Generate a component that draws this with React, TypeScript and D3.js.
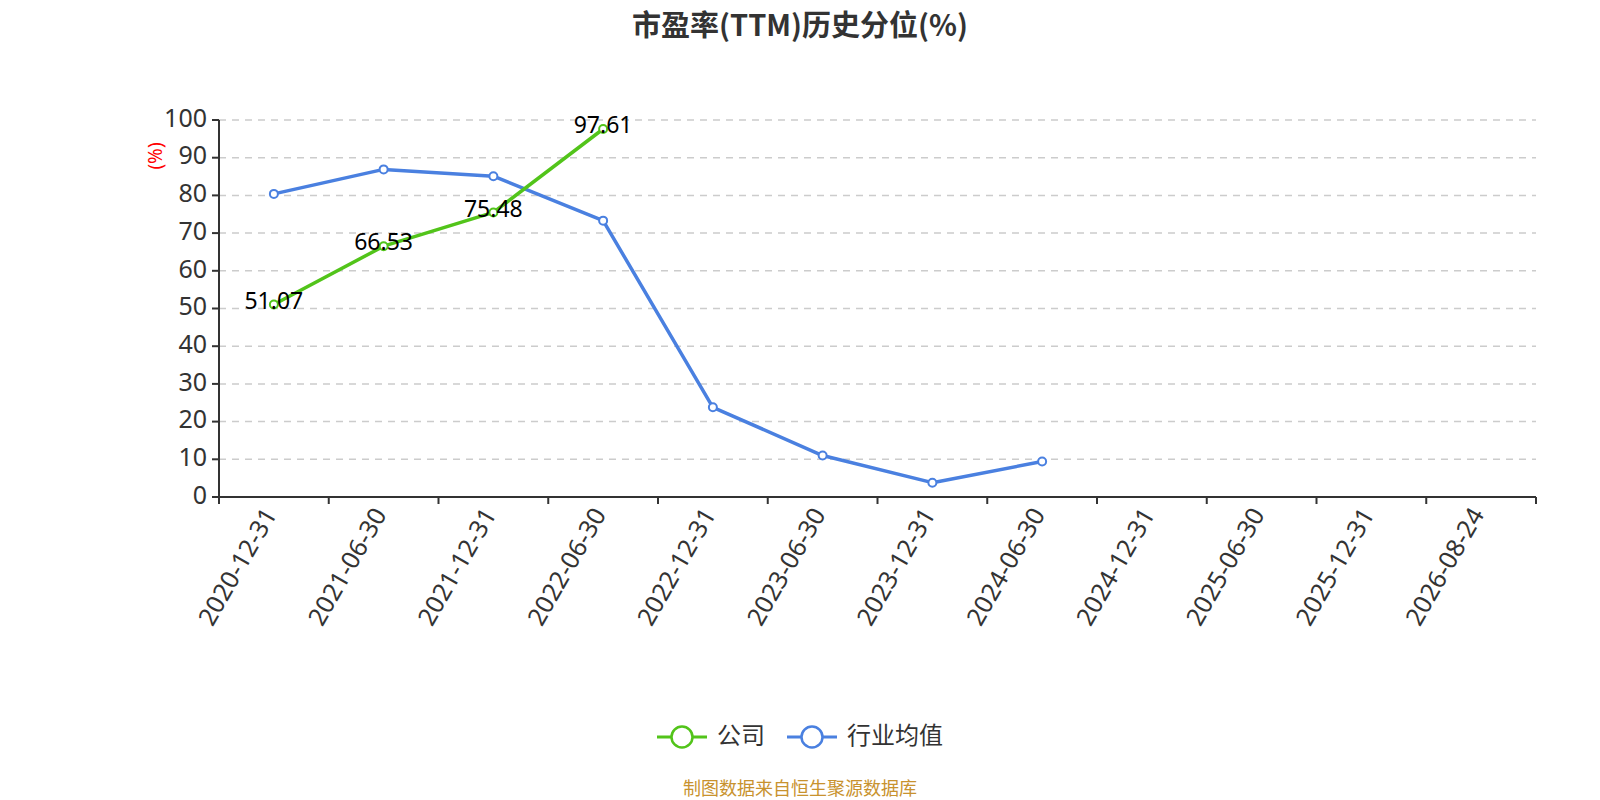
import React from "react";
import * as d3 from "d3";

const categories = [
  "2020-12-31",
  "2021-06-30",
  "2021-12-31",
  "2022-06-30",
  "2022-12-31",
  "2023-06-30",
  "2023-12-31",
  "2024-06-30",
  "2024-12-31",
  "2025-06-30",
  "2025-12-31",
  "2026-08-24",
];

// 公司
const companyValues = [51.07, 66.53, 75.48, 97.61];
// 行业均值
const industryValues = [80.4, 86.9, 85.1, 73.3, 23.8, 11.0, 3.8, 9.4];

const yTicks = [0, 10, 20, 30, 40, 50, 60, 70, 80, 90, 100];

const W = 1600;
const H = 800;
const margin = { top: 120, right: 64, bottom: 303, left: 219 };
const font = '"Noto Sans", "Noto Sans CJK SC", sans-serif';
const cjkFont = '"Noto Sans CJK SC", "Noto Sans", sans-serif';

const GREEN = "#52c41a";
const BLUE = "#4a80e0";

export default function App() {
  const x = d3
    .scaleBand()
    .domain(categories)
    .range([margin.left, W - margin.right])
    .paddingInner(0)
    .paddingOuter(0);
  const y = d3
    .scaleLinear()
    .domain([0, 100])
    .range([H - margin.bottom, margin.top]);

  const cx = (i: number) => (x(categories[i]) as number) + x.bandwidth() / 2;
  const line = d3
    .line<number>()
    .x((_, i) => cx(i))
    .y((d) => y(d));

  const tickXs = [...categories.map((c) => x(c) as number), W - margin.right];
  const baseY = y(0);

  const series = [
    { name: "行业均值", color: BLUE, values: industryValues, labels: false },
    { name: "公司", color: GREEN, values: companyValues, labels: true },
  ];

  const legend = [
    { name: "公司", color: GREEN, textW: 48 },
    { name: "行业均值", color: BLUE, textW: 96 },
  ];
  const legendGap = 22;
  const iconW = 50;
  const textGap = 10;
  const legendTotal =
    legend.reduce((a, l) => a + iconW + textGap + l.textW, 0) + legendGap * (legend.length - 1);
  let lx = W / 2 - legendTotal / 2;

  return (
    <div style={{ position: "fixed", left: 0, top: 0 }}>
      <svg width={W} height={H} style={{ display: "block", background: "#fff" }} fontFamily={font}>
        <text
          x={W / 2}
          y={36}
          textAnchor="middle"
          fontSize={29}
          fontWeight="bold"
          fill="#333"
          fontFamily={cjkFont}
        >
          市盈率(TTM)历史分位(%)
        </text>

        {/* grid */}
        {yTicks.map((t) => (
          <g key={t}>
            {t > 0 && (
              <line
                x1={margin.left}
                x2={W - margin.right}
                y1={y(t)}
                y2={y(t)}
                stroke="#cccccc"
                strokeWidth={1.5}
                strokeDasharray="7 6"
              />
            )}
            <line x1={margin.left - 7} x2={margin.left} y1={y(t)} y2={y(t)} stroke="#333" strokeWidth={2} />
            <text
              x={margin.left - 12}
              y={y(t)}
              textAnchor="end"
              dominantBaseline="middle"
              fontSize={25}
              fill="#333"
            >
              {t}
            </text>
          </g>
        ))}

        <text
          transform={`translate(157,156) rotate(-90)`}
          textAnchor="middle"
          dominantBaseline="middle"
          fontSize={19}
          fill="#ff0000"
        >
          (%)
        </text>

        {/* axes */}
        <line x1={margin.left} x2={margin.left} y1={margin.top} y2={baseY} stroke="#333" strokeWidth={2} />
        <line x1={margin.left} x2={W - margin.right} y1={baseY} y2={baseY} stroke="#333" strokeWidth={2} />
        {tickXs.map((tx, i) => (
          <line key={i} x1={tx} x2={tx} y1={baseY} y2={baseY + 7} stroke="#333" strokeWidth={2} />
        ))}
        {categories.map((c, i) => (
          <text
            key={c}
            transform={`translate(${cx(i) - 2},${baseY + 14}) rotate(-60)`}
            textAnchor="end"
            dominantBaseline="middle"
            fontSize={25}
            fill="#333"
          >
            {c}
          </text>
        ))}

        {/* series */}
        {series.map((s) => (
          <g key={s.name}>
            <path d={line(s.values) || ""} fill="none" stroke={s.color} strokeWidth={3.5} strokeLinejoin="round" />
            {s.values.map((v, i) => (
              <circle key={i} cx={cx(i)} cy={y(v)} r={4} fill="#fff" stroke={s.color} strokeWidth={2} />
            ))}
          </g>
        ))}
        {series
          .filter((s) => s.labels)
          .map((s) =>
            s.values.map((v, i) => (
              <text
                key={s.name + i}
                x={cx(i)}
                y={y(v) - 2}
                textAnchor="middle"
                dominantBaseline="middle"
                fontSize={23}
                fill="#000"
              >
                {v.toFixed(2)}
              </text>
            ))
          )}

        {/* legend */}
        {legend.map((l) => {
          const x0 = lx;
          lx += iconW + textGap + l.textW + legendGap;
          const ly = 737;
          return (
            <g key={l.name}>
              <line x1={x0} x2={x0 + iconW} y1={ly} y2={ly} stroke={l.color} strokeWidth={3} />
              <circle cx={x0 + iconW / 2} cy={ly} r={10.5} fill="#fff" stroke={l.color} strokeWidth={2.5} />
              <text
                x={x0 + iconW + textGap}
                y={ly}
                dominantBaseline="middle"
                fontSize={24}
                fill="#333"
                fontFamily={cjkFont}
              >
                {l.name}
              </text>
            </g>
          );
        })}

        <text
          x={W / 2}
          y={790}
          textAnchor="middle"
          dominantBaseline="middle"
          fontSize={18}
          fill="#c8922e"
          fontFamily={cjkFont}
        >
          制图数据来自恒生聚源数据库
        </text>
      </svg>
    </div>
  );
}
